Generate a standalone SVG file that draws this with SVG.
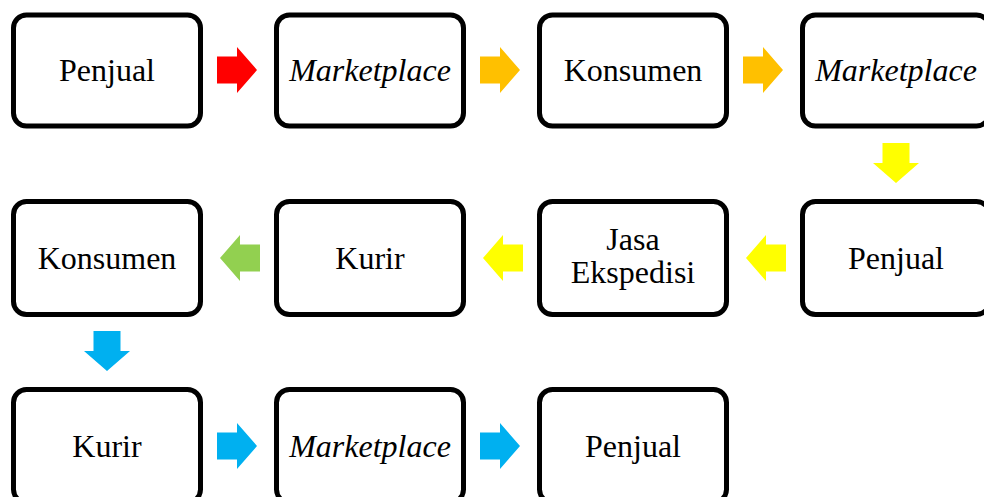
<svg xmlns="http://www.w3.org/2000/svg" xmlns:xlink="http://www.w3.org/1999/xlink" width="984" height="497" viewBox="0 0 984 497">
<style>
.box{fill:#fff;stroke:#000;stroke-width:5}
.t{font-family:"Liberation Serif","Times New Roman",serif;font-size:32px;fill:#000;text-anchor:middle}
.i{font-style:italic}
</style>
<defs>
<path id="arr" d="M0,-13.5 H20 V-23 L40,0 L20,23 V13.5 H0 Z"/>
</defs>
<rect width="984" height="497" fill="#fff"/>
<g id="connectors">
<use xlink:href="#arr" transform="translate(217,70)" fill="#FF0000"/>
<use xlink:href="#arr" transform="translate(480,70)" fill="#FFC000"/>
<use xlink:href="#arr" transform="translate(743,70)" fill="#FFC000"/>
<use xlink:href="#arr" transform="translate(896,143) rotate(90)" fill="#FFFF00"/>
<use xlink:href="#arr" transform="translate(786,258) rotate(180)" fill="#FFFF00"/>
<use xlink:href="#arr" transform="translate(523,258) rotate(180)" fill="#FFFF00"/>
<use xlink:href="#arr" transform="translate(260,258) rotate(180)" fill="#92D050"/>
<use xlink:href="#arr" transform="translate(107,331) rotate(90)" fill="#00B0F0"/>
<use xlink:href="#arr" transform="translate(217,446) rotate(0)" fill="#00B0F0"/>
<use xlink:href="#arr" transform="translate(480,446)" fill="#00B0F0"/>
</g>
<g id="n1"><rect class="box" x="13.5" y="15" width="187" height="111" rx="13"/><text class="t" x="107" y="81">Penjual</text></g>
<g id="n2"><rect class="box" x="276.5" y="15" width="187" height="111" rx="13"/><text class="t i" x="370" y="81">Marketplace</text></g>
<g id="n3"><rect class="box" x="539.5" y="15" width="187" height="111" rx="13"/><text class="t" x="633" y="81">Konsumen</text></g>
<g id="n4"><rect class="box" x="802.5" y="15" width="187" height="111" rx="13"/><text class="t i" x="896" y="81">Marketplace</text></g>
<g id="n5"><rect class="box" x="802.5" y="201.5" width="187" height="113" rx="13"/><text class="t" x="896" y="269">Penjual</text></g>
<g id="n6"><rect class="box" x="539.5" y="201.5" width="187" height="113" rx="13"/><text class="t" x="633" y="250">Jasa</text><text class="t" x="633" y="283">Ekspedisi</text></g>
<g id="n7"><rect class="box" x="276.5" y="201.5" width="187" height="113" rx="13"/><text class="t" x="370" y="269">Kurir</text></g>
<g id="n8"><rect class="box" x="13.5" y="201.5" width="187" height="113" rx="13"/><text class="t" x="107" y="269">Konsumen</text></g>
<g id="n9"><rect class="box" x="13.5" y="389.5" width="187" height="113" rx="13"/><text class="t" x="107" y="457">Kurir</text></g>
<g id="n10"><rect class="box" x="276.5" y="389.5" width="187" height="113" rx="13"/><text class="t i" x="370" y="457">Marketplace</text></g>
<g id="n11"><rect class="box" x="539.5" y="389.5" width="187" height="113" rx="13"/><text class="t" x="633" y="457">Penjual</text></g>
</svg>
